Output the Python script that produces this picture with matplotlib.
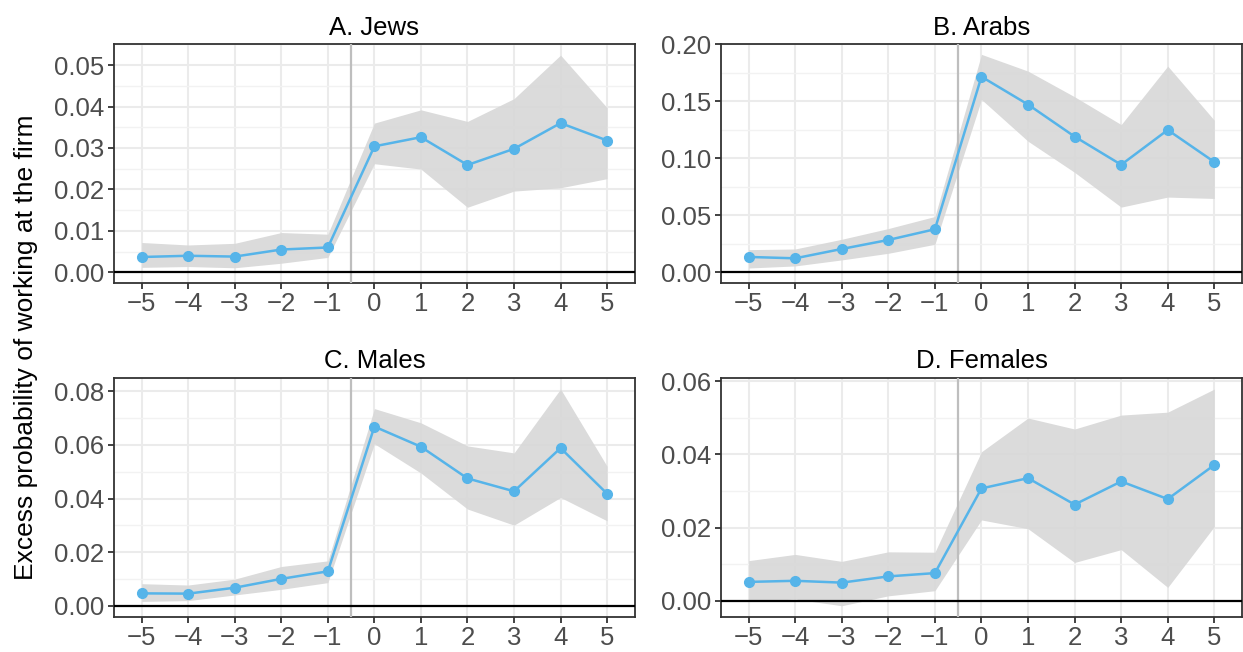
import matplotlib
matplotlib.use('Agg')
import matplotlib.pyplot as plt
from matplotlib.ticker import MultipleLocator, FuncFormatter

plt.rcParams['font.family'] = ['Liberation Sans', 'DejaVu Sans']

# event time
years = [-5, -4, -3, -2, -1, 0, 1, 2, 3, 4, 5]

# A. Jews
jews_est = [0.0037, 0.0040, 0.0038, 0.0055, 0.0060, 0.0304, 0.0326, 0.0259, 0.0298, 0.0360, 0.0318]
jews_hi = [0.0072, 0.0066, 0.0070, 0.0096, 0.0092, 0.0360, 0.0392, 0.0364, 0.0419, 0.0524, 0.0397]
jews_lo = [0.0012, 0.0014, 0.0011, 0.0022, 0.0036, 0.0262, 0.0249, 0.0157, 0.0196, 0.0204, 0.0226]

# B. Arabs
arabs_est = [0.0135, 0.0123, 0.0205, 0.0284, 0.0378, 0.1716, 0.1472, 0.1191, 0.0944, 0.1249, 0.0968]
arabs_hi = [0.0199, 0.0205, 0.0290, 0.0384, 0.0490, 0.1912, 0.1765, 0.1540, 0.1296, 0.1809, 0.1334]
arabs_lo = [0.0038, 0.0056, 0.0109, 0.0167, 0.0246, 0.1516, 0.1150, 0.0877, 0.0572, 0.0660, 0.0648]

# C. Males
males_est = [0.0047, 0.0046, 0.0068, 0.0101, 0.0129, 0.0668, 0.0593, 0.0475, 0.0427, 0.0588, 0.0418]
males_hi = [0.0083, 0.0078, 0.0100, 0.0147, 0.0168, 0.0735, 0.0682, 0.0596, 0.0570, 0.0808, 0.0520]
males_lo = [0.0017, 0.0020, 0.0041, 0.0062, 0.0087, 0.0604, 0.0495, 0.0361, 0.0301, 0.0404, 0.0317]

# D. Females
females_est = [0.0052, 0.0055, 0.0050, 0.0067, 0.0076, 0.0307, 0.0335, 0.0263, 0.0326, 0.0278, 0.0371]
females_hi = [0.0110, 0.0127, 0.0108, 0.0134, 0.0133, 0.0407, 0.0499, 0.0469, 0.0507, 0.0515, 0.0578]
females_lo = [-0.0001, 0.0005, -0.0013, 0.0014, 0.0028, 0.0221, 0.0197, 0.0105, 0.0140, 0.0037, 0.0203]

panels = [
    ('A. Jews', jews_est, jews_lo, jews_hi, (-0.0025, 0.0550), 0.01, [0.0915, 0.5664, 0.4194, 0.3656]),
    ('B. Arabs', arabs_est, arabs_lo, arabs_hi, (-0.0091, 0.2000), 0.05, [0.5798, 0.5664, 0.4196, 0.3656]),
    ('C. Males', males_est, males_lo, males_hi, (-0.0040, 0.0850), 0.02, [0.0915, 0.0541, 0.4194, 0.3666]),
    ('D. Females', females_est, females_lo, females_hi, (-0.0043, 0.0609), 0.02, [0.5798, 0.0541, 0.4196, 0.3666]),
]

fig = plt.figure(figsize=(12.43, 6.52), dpi=100)

for title, est, lo, hi, ylim, step, pos in panels:
    ax = fig.add_axes(pos)
    ax.set_axisbelow(True)
    ax.fill_between(years, lo, hi, color='#d9d9d9', lw=0, alpha=0.95, zorder=2)
    ax.axvline(-0.5, color='#bebebe', lw=1.6, zorder=3)
    ax.axhline(0, color='black', lw=1.6, zorder=3)
    ax.plot(years, est, color='#56B4E9', lw=1.8, marker='o', ms=7, zorder=4)
    ax.set_xlim(-5.6, 5.6)
    ax.set_ylim(*ylim)
    ax.set_xticks(years)
    ax.xaxis.set_major_formatter(FuncFormatter(lambda v, p: f'{int(v)}'.replace('-', '\u2212')))
    ax.yaxis.set_major_locator(MultipleLocator(step))
    ax.yaxis.set_minor_locator(MultipleLocator(step / 2))
    ax.yaxis.set_major_formatter(FuncFormatter(lambda v, p: f'{v:.2f}'))
    ax.grid(which='major', color='#ebebeb', lw=1.5)
    ax.grid(which='minor', axis='y', color='#f2f2f2', lw=1.0)
    ax.tick_params(which='major', labelsize=18.5, labelcolor='#4d4d4d', color='#333333',
                   length=4, width=1.3, pad=3)
    ax.tick_params(which='minor', length=0)
    for s in ax.spines.values():
        s.set_color('#333333')
        s.set_linewidth(1.3)
    ax.set_title(title, fontsize=18.5, pad=7)

fig.text(0.021, 0.467, 'Excess probability of working at the firm', rotation=90,
         ha='center', va='center', fontsize=19)

fig.savefig('out.png', dpi=100)
